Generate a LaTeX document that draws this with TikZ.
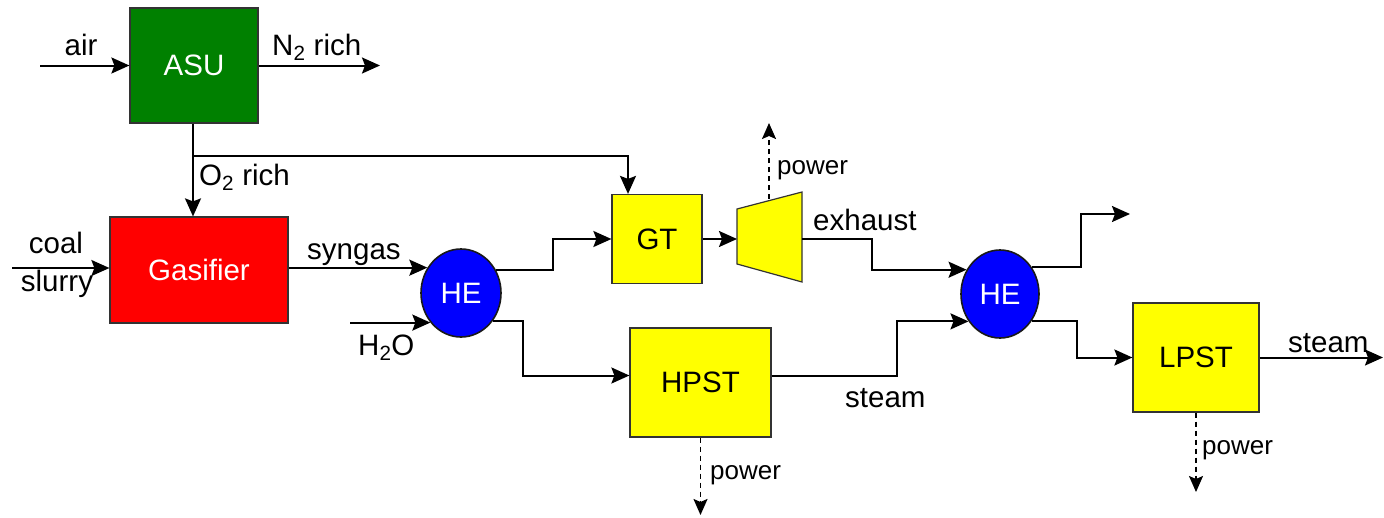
\documentclass[tikz,border=0pt]{standalone}
\usepackage{fontspec}
\setmainfont{Liberation Sans}
\usetikzlibrary{arrows.meta,shapes.geometric}
\definecolor{asugreen}{RGB}{0,128,0}
\definecolor{gasred}{RGB}{255,0,0}
\definecolor{heblue}{RGB}{0,0,255}
\definecolor{unityellow}{RGB}{255,255,0}
\begin{document}
\begin{tikzpicture}[x=1pt,y=-1pt,
    unit/.style={draw=black!80,line width=1.2pt,font=\fontsize{29.5}{34}\selectfont},
    hex/.style={ellipse,draw=black!90,line width=1.6pt,fill=heblue,text=white,minimum width=80pt,minimum height=88pt,inner sep=0pt,font=\fontsize{29.5}{34}\selectfont},
    flow/.style={line width=2pt,-{Stealth[length=18pt,width=16pt,inset=3pt]}},
    power/.style={line width=1.8pt,dash pattern=on 5pt off 4pt,-{Stealth[length=16pt,width=14pt,inset=3pt]}},
    lbl/.style={inner sep=0pt,font=\fontsize{29.5}{34}\selectfont},
    plbl/.style={inner sep=0pt,anchor=base west,font=\fontsize{26}{30}\selectfont}]
  \useasboundingbox (0,0) rectangle (1384,517);
  % units
  \node[unit,fill=asugreen,text=white,minimum width=128pt,minimum height=115pt] (asu) at (194,65.5) {ASU};
  \node[unit,fill=gasred,text=white,minimum width=178pt,minimum height=106pt] (gasifier) at (199,270) {Gasifier};
  \node[unit,fill=unityellow,minimum width=90pt,minimum height=89pt] (gt) at (657,239) {GT};
  \node[unit,fill=unityellow,minimum width=141pt,minimum height=109pt] (hpst) at (700.5,382.5) {HPST};
  \node[unit,fill=unityellow,minimum width=126pt,minimum height=109pt] (lpst) at (1196,357.5) {LPST};
  \node[hex] (he1) at (461,293) {HE};
  \node[hex,minimum width=78pt] (he2) at (1000,294) {HE};
  % turbine
  \draw[draw=black!80,line width=1.2pt,fill=unityellow] (737,209) -- (802,192) -- (802,282) -- (737,264) -- cycle;
  \coordinate (tbin) at (737,239);
  \coordinate (tbout) at (802,239);
  \coordinate (tbtop) at (769,199);
  % free ends
  \coordinate (airin) at (40,65.5);
  \coordinate (n2out) at (380,65.5);
  \coordinate (o2split) at (193,156);
  \coordinate (coalin) at (12,268);
  \coordinate (h2oin) at (350,322);
  \coordinate (exhout) at (1130,214);
  \coordinate (steamout) at (1383,357.5);
  \coordinate (tbpow) at (769,123);
  \coordinate (hpstpow) at (700.5,515);
  \coordinate (lpstpow) at (1196,492);
  % streams
  \draw[flow] (airin) -- (asu.west);
  \draw[flow] (asu.east) -- (n2out);
  \draw[flow] (asu.south -| o2split) -- (o2split |- gasifier.north);
  \draw[flow] (o2split) -| ([xshift=-29pt]gt.north);
  \draw[flow] (coalin) -- (gasifier.west |- coalin);
  \draw[flow] (gasifier.east |- he1.143) -- (he1.143);
  \draw[flow] (h2oin |- he1.-136) -- (he1.-136);
  \draw[flow] (he1.33) -- ++(57,0) |- (gt.west);
  \draw[flow] (he1.-42) -- ++(30,0) |- ([yshift=7pt]hpst.west);
  \draw[flow] (gt.east) -- (tbin);
  \draw[flow] (tbout) -- ++(70,0) |- (he2.144);
  \draw[flow] ([yshift=7pt]hpst.east) -- ++(125,0) |- (he2.-139);
  \draw[flow] (he2.41) -- ++(49,0) |- (exhout);
  \draw[flow] (he2.-41) -- ++(45,0) |- (lpst.west);
  \draw[flow] (lpst.east) -- (steamout);
  \draw[power] (tbtop) -- (tbpow);
  \draw[power] (hpst.south) -- (hpstpow);
  \draw[power] (lpst.south) -- (lpstpow);
  % labels
  \node[lbl,anchor=base] (airlbl) at (81,55) {air};
  \node[lbl,anchor=base west] (n2lbl) at (272,55) {N\textsubscript{2} rich};
  \node[lbl,anchor=base west] (o2lbl) at (199,185) {O\textsubscript{2} rich};
  \node[lbl,anchor=base] (coallbl) at (56,253) {coal};
  \node[lbl,anchor=base] (slurrylbl) at (57,291) {slurry};
  \node[lbl,anchor=base west] (synlbl) at (307,259) {syngas};
  \node[lbl,anchor=base west] (h2olbl) at (358,355) {H\textsubscript{2}O};
  \node[lbl,anchor=base west] (exhlbl) at (813,230) {exhaust};
  \node[lbl,anchor=base west] (stmlbl) at (845,407) {steam};
  \node[lbl,anchor=base west] (stmout) at (1288,352) {steam};
  \node[plbl] (pw1) at (777,174) {power};
  \node[plbl] (pw2) at (710,479) {power};
  \node[plbl] (pw3) at (1202,454) {power};
\end{tikzpicture}
\end{document}
